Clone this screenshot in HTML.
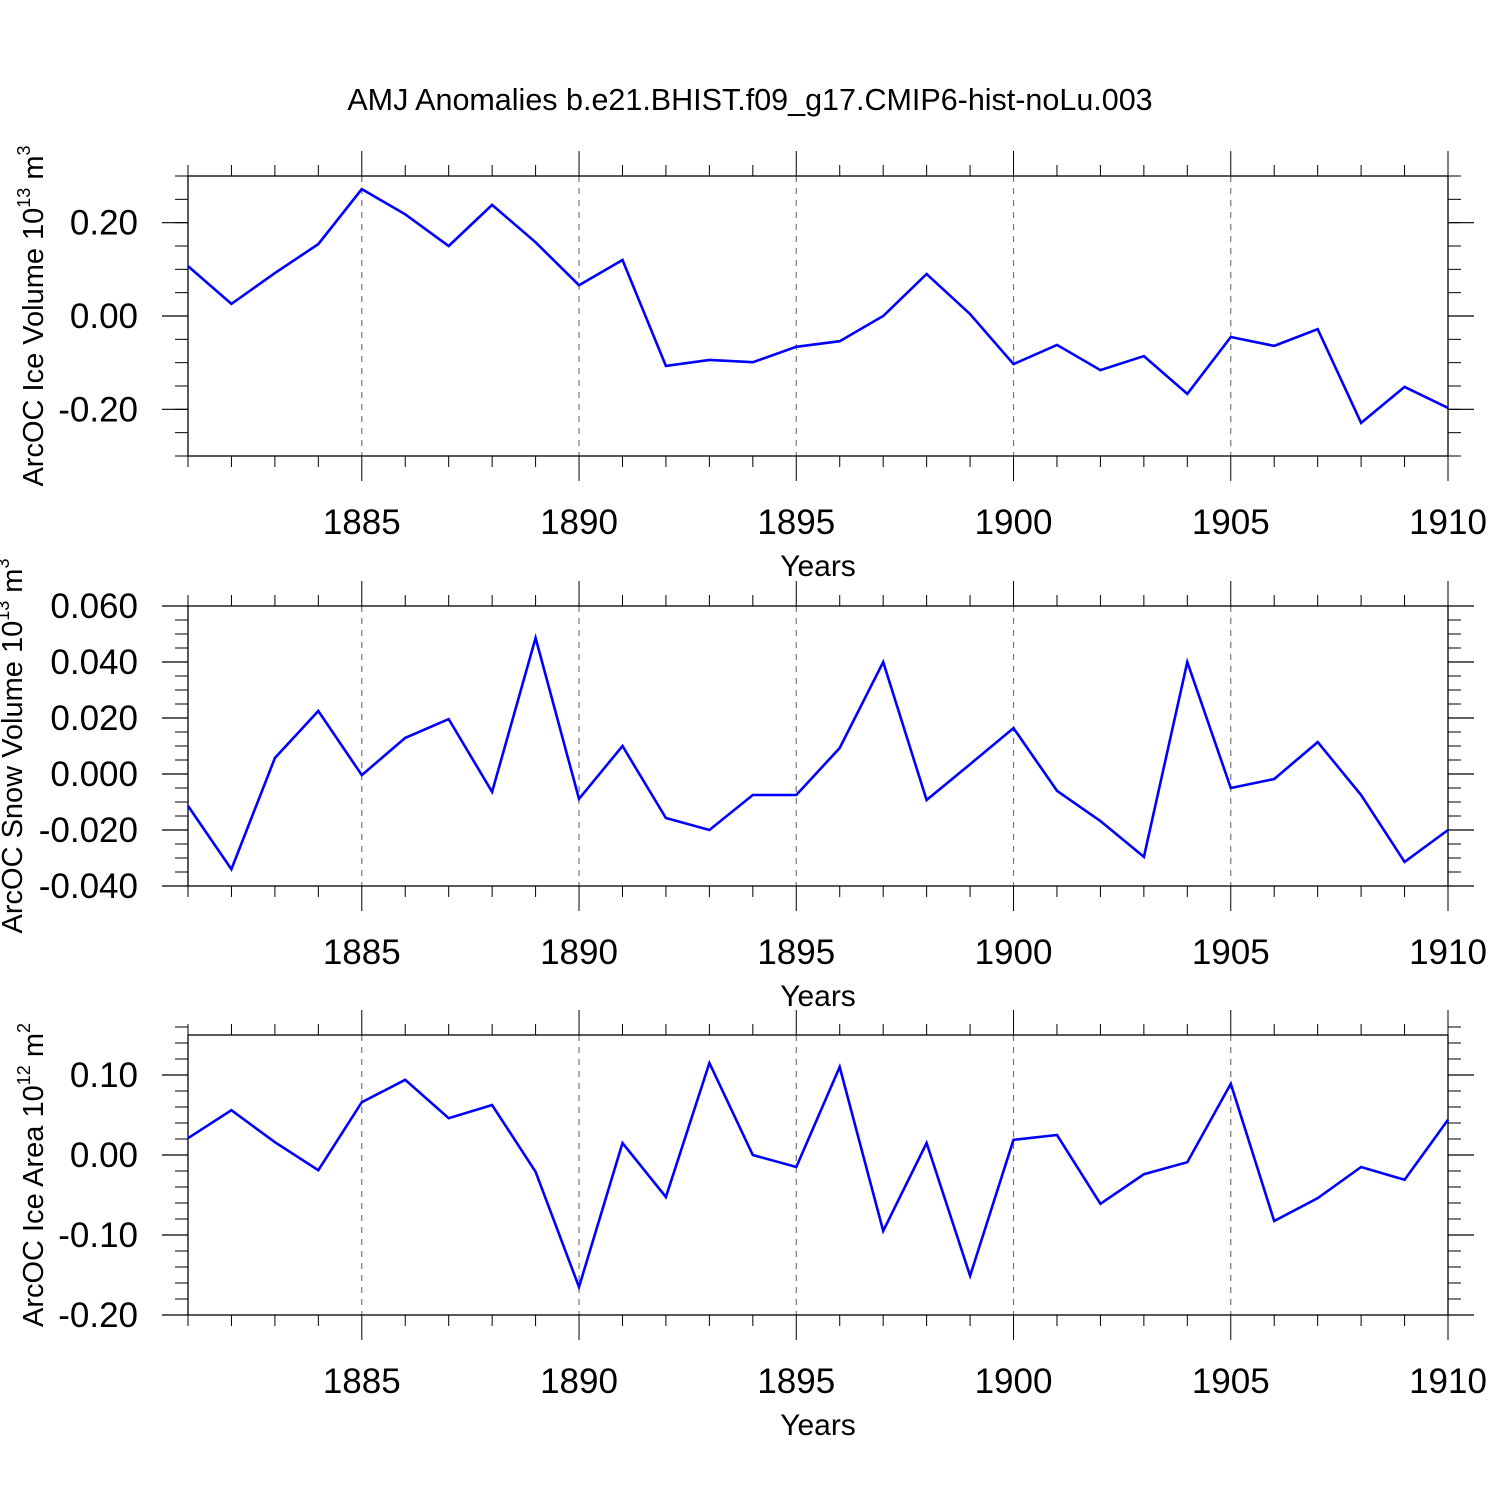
<!DOCTYPE html>
<html><head><meta charset="utf-8">
<style>
html,body{margin:0;padding:0;background:#fff;}
svg{display:block;font-family:"Liberation Sans",Arial,sans-serif;}
</style></head>
<body>
<svg id="chart" width="1500" height="1500" viewBox="0 0 1500 1500" xmlns="http://www.w3.org/2000/svg">
<rect width="1500" height="1500" fill="#fff"/>
<text x="750" y="110" font-size="30.5" text-anchor="middle">AMJ Anomalies b.e21.BHIST.f09_g17.CMIP6-hist-noLu.003</text>
<g id="plots"></g>
</svg>
<script>
const years = [];
for (let y = 1881; y <= 1910; y++) years.push(y);
const xTickLabels = [1885, 1890, 1895, 1900, 1905, 1910];
const iceVolume = [0.107,0.026,0.092,0.154,0.272,0.218,0.150,0.238,0.158,0.066,0.120,-0.107,-0.094,-0.099,-0.066,-0.054,0.0,0.090,0.004,-0.103,-0.062,-0.116,-0.086,-0.167,-0.045,-0.064,-0.028,-0.229,-0.152,-0.197];
const snowVolume = [-0.0114,-0.034,0.0057,0.0225,-0.0004,0.0129,0.0196,-0.0064,0.0486,-0.0089,0.010,-0.0157,-0.020,-0.0075,-0.0075,0.0093,0.040,-0.0093,0.0035,0.0164,-0.006,-0.0168,-0.0296,0.040,-0.005,-0.0018,0.0114,-0.0075,-0.0314,-0.020];
const iceArea = [0.021,0.056,0.016,-0.019,0.066,0.094,0.046,0.0625,-0.021,-0.165,0.015,-0.0525,0.115,0.0,-0.015,0.11,-0.095,0.015,-0.151,0.019,0.025,-0.061,-0.024,-0.009,0.089,-0.0825,-0.054,-0.015,-0.031,0.044];
const iceVolumeTicks = [-0.2, 0.0, 0.2];
const iceVolumeTickLabels = ["-0.20","0.00","0.20"];
const snowVolumeTicks = [-0.04,-0.02,0,0.02,0.04,0.06];
const snowVolumeTickLabels = ["-0.040","-0.020","0.000","0.020","0.040","0.060"];
const iceAreaTicks = [-0.2,-0.1,0,0.1];
const iceAreaTickLabels = ["-0.20","-0.10","0.00","0.10"];

const NS = "http://www.w3.org/2000/svg";
const root = document.getElementById("plots");
const X0 = 188, X1 = 1448;
const xScale = yr => X0 + (yr - 1881) * (X1 - X0) / 29;

function mk(tag, attrs, parent) {
  const e = document.createElementNS(NS, tag);
  for (const k in attrs) e.setAttribute(k, attrs[k]);
  parent.appendChild(e);
  return e;
}

const panels = [
  {key:"ice-volume", data:iceVolume, top:176, bot:456, ymin:-0.3, ymax:0.3, ticks:iceVolumeTicks, labels:iceVolumeTickLabels, minor:0.05, tx:43, title:["ArcOC Ice Volume 10","13"," m","3"]},
  {key:"snow-volume", data:snowVolume, top:606, bot:886, ymin:-0.04, ymax:0.06, ticks:snowVolumeTicks, labels:snowVolumeTickLabels, minor:0.005, tx:22, title:["ArcOC Snow Volume 10","13"," m","3"]},
  {key:"ice-area", data:iceArea, top:1035, bot:1315, ymin:-0.2, ymax:0.15, ticks:iceAreaTicks, labels:iceAreaTickLabels, minor:0.02, tx:43, title:["ArcOC Ice Area 10","12"," m","2"]}
];

panels.forEach(p => {
  const g = mk("g", {}, root);
  
  
  const yScale = v => p.bot - (v - p.ymin) * (p.bot - p.top) / (p.ymax - p.ymin);
  xTickLabels.forEach(yr => {
    if (yr === 1910) return;
    const gl = mk("line", {x1:xScale(yr), x2:xScale(yr), y1:p.top, y2:p.bot, stroke:"#777", "stroke-width":1.2, "stroke-dasharray":"6,6"}, g);
    
    
  });
  years.forEach(yr => {
    const major = yr % 5 === 0;
    const x = xScale(yr);
    const L = major ? 25 : 11;
    mk("line", {x1:x, x2:x, y1:p.top - L, y2:p.top, stroke:"#000", "stroke-width":1}, g);
    mk("line", {x1:x, x2:x, y1:p.bot, y2:p.bot + L, stroke:"#000", "stroke-width":1}, g);
  });
  xTickLabels.forEach(yr => {
    const t = mk("text", {x:xScale(yr), y:p.bot + 78, "font-size":35, "text-anchor":"middle"}, g);
    t.textContent = yr;
    
    
  });
  const xt = mk("text", {x:818, y:p.bot + 120, "font-size":30, "text-anchor":"middle"}, g);
  xt.textContent = "Years";
  
  
  const nMin = Math.round((p.ymax - p.ymin) / p.minor);
  for (let i = 0; i <= nMin; i++) {
    const v = p.ymin + i * p.minor;
    const y = yScale(v);
    mk("line", {x1:X0 - 13, x2:X0, y1:y, y2:y, stroke:"#000", "stroke-width":1}, g);
    mk("line", {x1:X1, x2:X1 + 13, y1:y, y2:y, stroke:"#000", "stroke-width":1}, g);
  }
  p.ticks.forEach((v, i) => {
    const y = yScale(v);
    mk("line", {x1:X0 - 26, x2:X0, y1:y, y2:y, stroke:"#000", "stroke-width":1.2}, g);
    mk("line", {x1:X1, x2:X1 + 26, y1:y, y2:y, stroke:"#000", "stroke-width":1.2}, g);
    const t = mk("text", {x:138, y:y + 12, "font-size":35, "text-anchor":"end"}, g);
    t.textContent = p.labels[i];
    
    
  });
  const fr = mk("rect", {x:X0, y:p.top, width:X1 - X0, height:p.bot - p.top, fill:"none", stroke:"#000", "stroke-width":1.3}, g);
  
  
  const pts = p.data.map((v, i) => xScale(years[i]).toFixed(1) + "," + yScale(v).toFixed(1)).join(" ");
  const ln = mk("polyline", {points:pts, fill:"none", stroke:"#0000ff", "stroke-width":2.6, "stroke-linejoin":"miter"}, g);
  
  
  const cy = (p.top + p.bot) / 2;
  const yt = mk("text", {x:0, y:0, "font-size":29, "text-anchor":"middle", transform:"translate(" + p.tx + "," + cy + ") rotate(-90)"}, g);
  
  
  const s1 = mk("tspan", {}, yt); s1.textContent = p.title[0];
  const s2 = mk("tspan", {dy:-13, "font-size":18}, yt); s2.textContent = p.title[1];
  const s3 = mk("tspan", {dy:13}, yt); s3.textContent = p.title[2];
  const s4 = mk("tspan", {dy:-13, "font-size":18}, yt); s4.textContent = p.title[3];
});
</script>
</body></html>
